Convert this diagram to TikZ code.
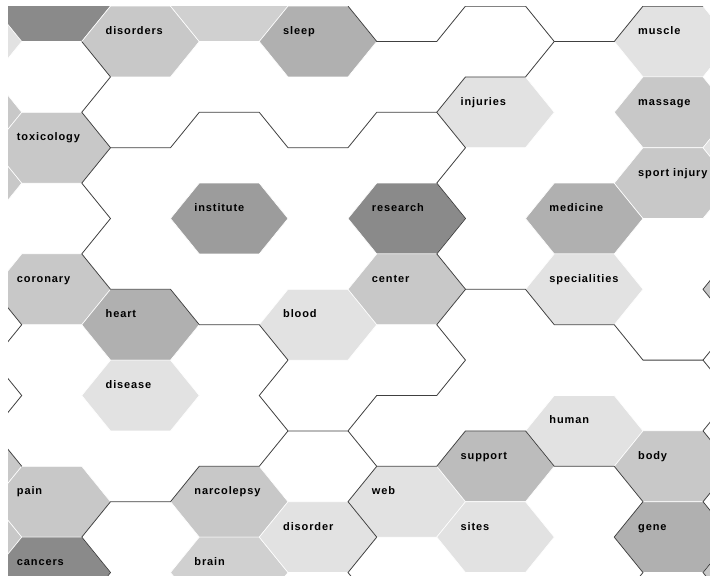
\documentclass[tikz,border=0pt]{standalone}
\usepackage{fontspec}
\newfontfamily\termfont{Liberation Sans}[LetterSpace=8]
\usepackage{tikz}

\definecolor{hexdark}{HTML}{8A8A8A}
\definecolor{hexinst}{HTML}{9C9C9C}
\definecolor{hexmid}{HTML}{B0B0B0}
\definecolor{hexsupp}{HTML}{BCBCBC}
\definecolor{hexgray}{HTML}{C8C8C8}
\definecolor{hexsoft}{HTML}{D0D0D0}
\definecolor{hexpale}{HTML}{E2E2E2}
\definecolor{borderline}{HTML}{404040}

\begin{document}
\begin{tikzpicture}[
    x=1pt, y=-1pt,
    every node/.style={font=\termfont\bfseries\fontsize{11}{13}\selectfont, inner sep=0pt},
    cell/.style={draw=white, line width=0.6pt},
    term/.style={anchor=base west, xshift=-35pt, yshift=7pt},
    border/.style={draw=borderline, line width=0.8pt, line join=round}
  ]
    \useasboundingbox[fill=white] (0,0) rectangle (710,576);
    \clip (8,6.1) rectangle (710,576);

    % Shaded cells: column / row / tone
    \foreach \k/\j/\tone in {-1/1/hexpale, -1/3/hexgray, -1/5/hexgray, -1/13/hexgray, -1/15/hexgray,
        0/0/hexdark, 0/4/hexgray, 0/8/hexgray, 0/14/hexgray, 0/16/hexdark,
        1/1/hexgray, 1/9/hexmid, 1/11/hexpale,
        2/0/hexsoft, 2/6/hexinst, 2/14/hexgray, 2/16/hexsoft,
        3/1/hexmid, 3/9/hexpale, 3/15/hexpale,
        4/6/hexdark, 4/8/hexgray, 4/14/hexpale,
        5/3/hexpale, 5/13/hexsupp, 5/15/hexpale,
        6/6/hexmid, 6/8/hexpale, 6/12/hexpale,
        7/1/hexpale, 7/3/hexgray, 7/5/hexgray, 7/13/hexgray, 7/15/hexmid,
        8/4/hexpale, 8/8/hexgray, 8/16/hexgray}{
      \pgfmathsetmacro{\cx}{51.75+88.75*\k}
      \pgfmathsetmacro{\cy}{6.1+35.4*\j}
      \filldraw[cell, fill=\tone] (\cx,\cy) +(-58.75,0) -- +(-30,-35.4) -- +(30,-35.4)
        -- +(58.75,0) -- +(30,35.4) -- +(-30,35.4) -- cycle;
    }

    % Cluster borders
    \draw[border] (81.75,41.5) -- (110.5,76.9) -- (81.75,112.3) -- (110.5,147.7) -- (81.75,183.1)
      -- (110.5,218.5) -- (81.75,253.9) -- (110.5,289.3) -- (170.5,289.3) -- (199.25,324.7)
      -- (259.25,324.7) -- (288,360.1) -- (259.25,395.5) -- (288,430.9) -- (348,430.9)
      -- (376.75,395.5) -- (436.75,395.5) -- (465.5,360.1) -- (436.75,324.7) -- (465.5,289.3)
      -- (525.5,289.3) -- (554.25,324.7) -- (614.25,324.7) -- (643,360.1) -- (703,360.1);
    \draw[border] (110.5,147.7) -- (170.5,147.7) -- (199.25,112.3) -- (259.25,112.3) -- (288,147.7)
      -- (348,147.7) -- (376.75,112.3) -- (436.75,112.3) -- (465.5,147.7) -- (436.75,183.1)
      -- (465.5,218.5) -- (436.75,253.9) -- (465.5,289.3);
    \draw[border] (348,6.1) -- (376.75,41.5) -- (436.75,41.5) -- (465.5,6.1) -- (525.5,6.1)
      -- (554.25,41.5) -- (614.25,41.5) -- (643,6.1) -- (703,6.1);
    \draw[border] (554.25,41.5) -- (525.5,76.9) -- (465.5,76.9) -- (436.75,112.3);
    \draw[border] (288,430.9) -- (259.25,466.3) -- (199.25,466.3) -- (170.5,501.7) -- (110.5,501.7)
      -- (81.75,537.1) -- (110.5,572.5) -- (81.75,607.9);
    \draw[border] (348,430.9) -- (376.75,466.3) -- (436.75,466.3) -- (465.5,430.9) -- (525.5,430.9)
      -- (554.25,466.3) -- (614.25,466.3) -- (643,501.7) -- (614.25,537.1) -- (643,572.5)
      -- (614.25,607.9);
    \draw[border] (376.75,466.3) -- (348,501.7) -- (376.75,537.1) -- (348,572.5) -- (376.75,607.9);
    \draw[border] (-7,289.3) -- (21.75,324.7) -- (-7,360.1) -- (21.75,395.5) -- (-7,430.9)
      -- (21.75,466.3);
    \draw[border] (731.75,253.9) -- (703,289.3) -- (731.75,324.7) -- (703,360.1) -- (731.75,395.5)
      -- (703,430.9) -- (731.75,466.3) -- (703,501.7) -- (731.75,537.1) -- (703,572.5)
      -- (731.75,607.9);

    % Terms
    \node[term] (disorders) at (140.5,41.5) {disorders};
    \node[term] (sleep) at (318,41.5) {sleep};
    \node[term] (muscle) at (673,41.5) {muscle};
    \node[term] (injuries) at (495.5,112.3) {injuries};
    \node[term] (massage) at (673,112.3) {massage};
    \node[term] (toxicology) at (51.75,147.7) {toxicology};
    \node[term] (sportinjury) at (673,183.1) {sport injury};
    \node[term] (institute) at (229.25,218.5) {institute};
    \node[term] (research) at (406.75,218.5) {research};
    \node[term] (medicine) at (584.25,218.5) {medicine};
    \node[term] (coronary) at (51.75,289.3) {coronary};
    \node[term] (center) at (406.75,289.3) {center};
    \node[term] (specialities) at (584.25,289.3) {specialities};
    \node[term] (heart) at (140.5,324.7) {heart};
    \node[term] (blood) at (318,324.7) {blood};
    \node[term] (disease) at (140.5,395.5) {disease};
    \node[term] (human) at (584.25,430.9) {human};
    \node[term] (support) at (495.5,466.3) {support};
    \node[term] (body) at (673,466.3) {body};
    \node[term] (pain) at (51.75,501.7) {pain};
    \node[term] (narcolepsy) at (229.25,501.7) {narcolepsy};
    \node[term] (web) at (406.75,501.7) {web};
    \node[term] (disorder) at (318,537.1) {disorder};
    \node[term] (sites) at (495.5,537.1) {sites};
    \node[term] (gene) at (673,537.1) {gene};
    \node[term] (cancers) at (51.75,572.5) {cancers};
    \node[term] (brain) at (229.25,572.5) {brain};

  \end{tikzpicture}
\end{document}
